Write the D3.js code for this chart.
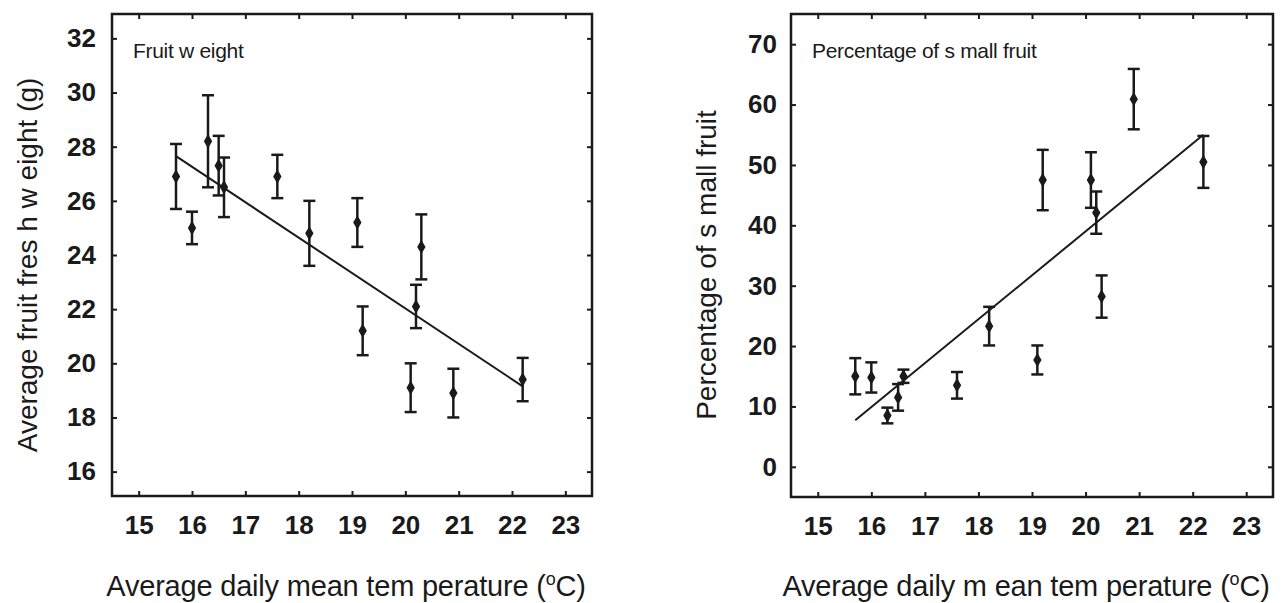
<!DOCTYPE html>
<html>
<head>
<meta charset="utf-8">
<script src="https://cdn.jsdelivr.net/npm/d3@7"></script>
<style>
  body { margin: 0; background: #fff; }
  svg text { font-family: "Liberation Sans", Arial, sans-serif; fill: #1a1a1a; }
</style>
</head>
<body>
<svg id="chart" width="1288" height="603"></svg>
<script>
// temperatures of the 14 sites (shared by both panels)
const temps = [15.7, 16.0, 16.3, 16.5, 16.6, 17.6, 18.2, 19.1, 19.2, 20.1, 20.2, 20.3, 20.9, 22.2];

// panel 1: fruit fresh weight (g)
const weightMean = [26.9, 25.0, 28.2, 27.3, 26.5, 26.9, 24.8, 25.2, 21.2, 19.1, 22.1, 24.3, 18.9, 19.4];
const weightErr  = [1.2, 0.6, 1.7, 1.1, 1.1, 0.8, 1.2, 0.9, 0.9, 0.9, 0.8, 1.2, 0.9, 0.8];
const weightFit  = [[15.7, 27.65], [22.2, 19.15]];

// panel 2: percentage of small fruit
const smallMean = [15.0, 14.8, 8.5, 11.5, 15.0, 13.5, 23.3, 17.7, 47.5, 47.5, 42.1, 28.2, 60.9, 50.5];
const smallErr  = [3.0, 2.5, 1.3, 2.2, 1.1, 2.2, 3.2, 2.4, 5.0, 4.6, 3.5, 3.5, 5.0, 4.3];
const smallFit  = [[15.7, 7.7], [22.2, 55.0]];

const xTicks = [15, 16, 17, 18, 19, 20, 21, 22, 23];
const weightTicks = [16, 18, 20, 22, 24, 26, 28, 30, 32];
const smallTicks = [0, 10, 20, 30, 40, 50, 60, 70];

const ink = "#1a1a1a";
var svg = d3.select("#chart");

function drawPanel(opts) {
  var g = svg.append("g").attr("transform", `translate(${opts.left},${opts.top})`);
  var w = opts.width, h = opts.height;

  var x = d3.scaleLinear().domain([14.5, 23.5]).range([0, w]);
  var y = d3.scaleLinear().domain(opts.yDomain).range([h, 0]);

  // axes: ticks point inward on all four sides
  var bottom = g.append("g").attr("transform", `translate(0,${h})`)
    .call(d3.axisBottom(x).tickValues(xTicks).tickSize(-5).tickPadding(20));
  var left = g.append("g")
    .call(d3.axisLeft(y).tickValues(opts.yTicks).tickSize(-5).tickPadding(opts.yPad));
  var top = g.append("g")
    .call(d3.axisTop(x).tickValues(xTicks).tickSize(-5).tickFormat(""));
  var right = g.append("g").attr("transform", `translate(${w},0)`)
    .call(d3.axisRight(y).tickValues(opts.yTicks).tickSize(-5).tickFormat(""));

  [bottom, left, top, right].forEach(a => {
    a.select(".domain").remove();
    a.selectAll(".tick line").attr("stroke", ink).attr("stroke-width", 2);
    a.selectAll(".tick text")
      .attr("fill", ink)
      .style("font-size", "26px")
      .style("font-weight", "bold");
  });
  bottom.selectAll(".tick text").attr("dy", "0.71em");

  g.append("rect")
    .attr("width", w).attr("height", h)
    .attr("fill", "none")
    .attr("stroke", ink)
    .attr("stroke-width", 2.5);

  // regression line
  g.append("line")
    .attr("x1", x(opts.fit[0][0])).attr("y1", y(opts.fit[0][1]))
    .attr("x2", x(opts.fit[1][0])).attr("y2", y(opts.fit[1][1]))
    .attr("stroke", ink).attr("stroke-width", 2);

  var pts = temps.map((t, i) => ({t: t, m: opts.mean[i], e: opts.err[i]}));
  var bars = g.append("g").selectAll("g").data(pts).join("g")
    .attr("stroke", ink).attr("stroke-width", 2.5);
  bars.append("line")
    .attr("x1", d => x(d.t)).attr("x2", d => x(d.t))
    .attr("y1", d => y(d.m - d.e)).attr("y2", d => y(d.m + d.e));
  bars.append("line")
    .attr("x1", d => x(d.t) - 6).attr("x2", d => x(d.t) + 6)
    .attr("y1", d => y(d.m + d.e)).attr("y2", d => y(d.m + d.e));
  bars.append("line")
    .attr("x1", d => x(d.t) - 6).attr("x2", d => x(d.t) + 6)
    .attr("y1", d => y(d.m - d.e)).attr("y2", d => y(d.m - d.e));

  g.append("g").selectAll("path").data(pts).join("path")
    .attr("d", d3.symbol().type(d3.symbolDiamond).size(60))
    .attr("transform", d => `translate(${x(d.t)},${y(d.m)})`)
    .attr("fill", ink);

  // panel label
  g.append("text")
    .attr("x", 21).attr("y", 44)
    .style("font-size", "21px")
    .style("letter-spacing", "-0.3px")
    .text(opts.label);

  // axis titles
  var xt = svg.append("text")
    .attr("x", opts.left + w / 2 - 6).attr("y", 596)
    .attr("text-anchor", "middle")
    .style("font-size", "29px")
    .style("letter-spacing", "-0.2px");
  xt.append("tspan").text(opts.xTitle + " (");
  xt.append("tspan").attr("dy", -11).style("font-size", "18px").text("o");
  xt.append("tspan").attr("dy", 11).text("C)");

  svg.append("text")
    .attr("transform", `translate(${opts.yTitleX},265) rotate(-90)`)
    .attr("text-anchor", "middle")
    .style("font-size", "28px")
    .text(opts.yTitle);
}

drawPanel({
  left: 112, top: 14, width: 480, height: 482,
  yDomain: [15.1, 32.9], yTicks: weightTicks, yPad: 16,
  mean: weightMean, err: weightErr, fit: weightFit,
  label: "Fruit w eight",
  xTitle: "Average daily mean tem perature",
  yTitle: "Average fruit fres h w eight (g)", yTitleX: 37
});

drawPanel({
  left: 791, top: 14, width: 482, height: 483,
  yDomain: [-5, 75], yTicks: smallTicks, yPad: 14,
  mean: smallMean, err: smallErr, fit: smallFit,
  label: "Percentage of s mall fruit",
  xTitle: "Average daily m ean tem perature",
  yTitle: "Percentage of s mall fruit", yTitleX: 716
});
</script>
</body>
</html>
